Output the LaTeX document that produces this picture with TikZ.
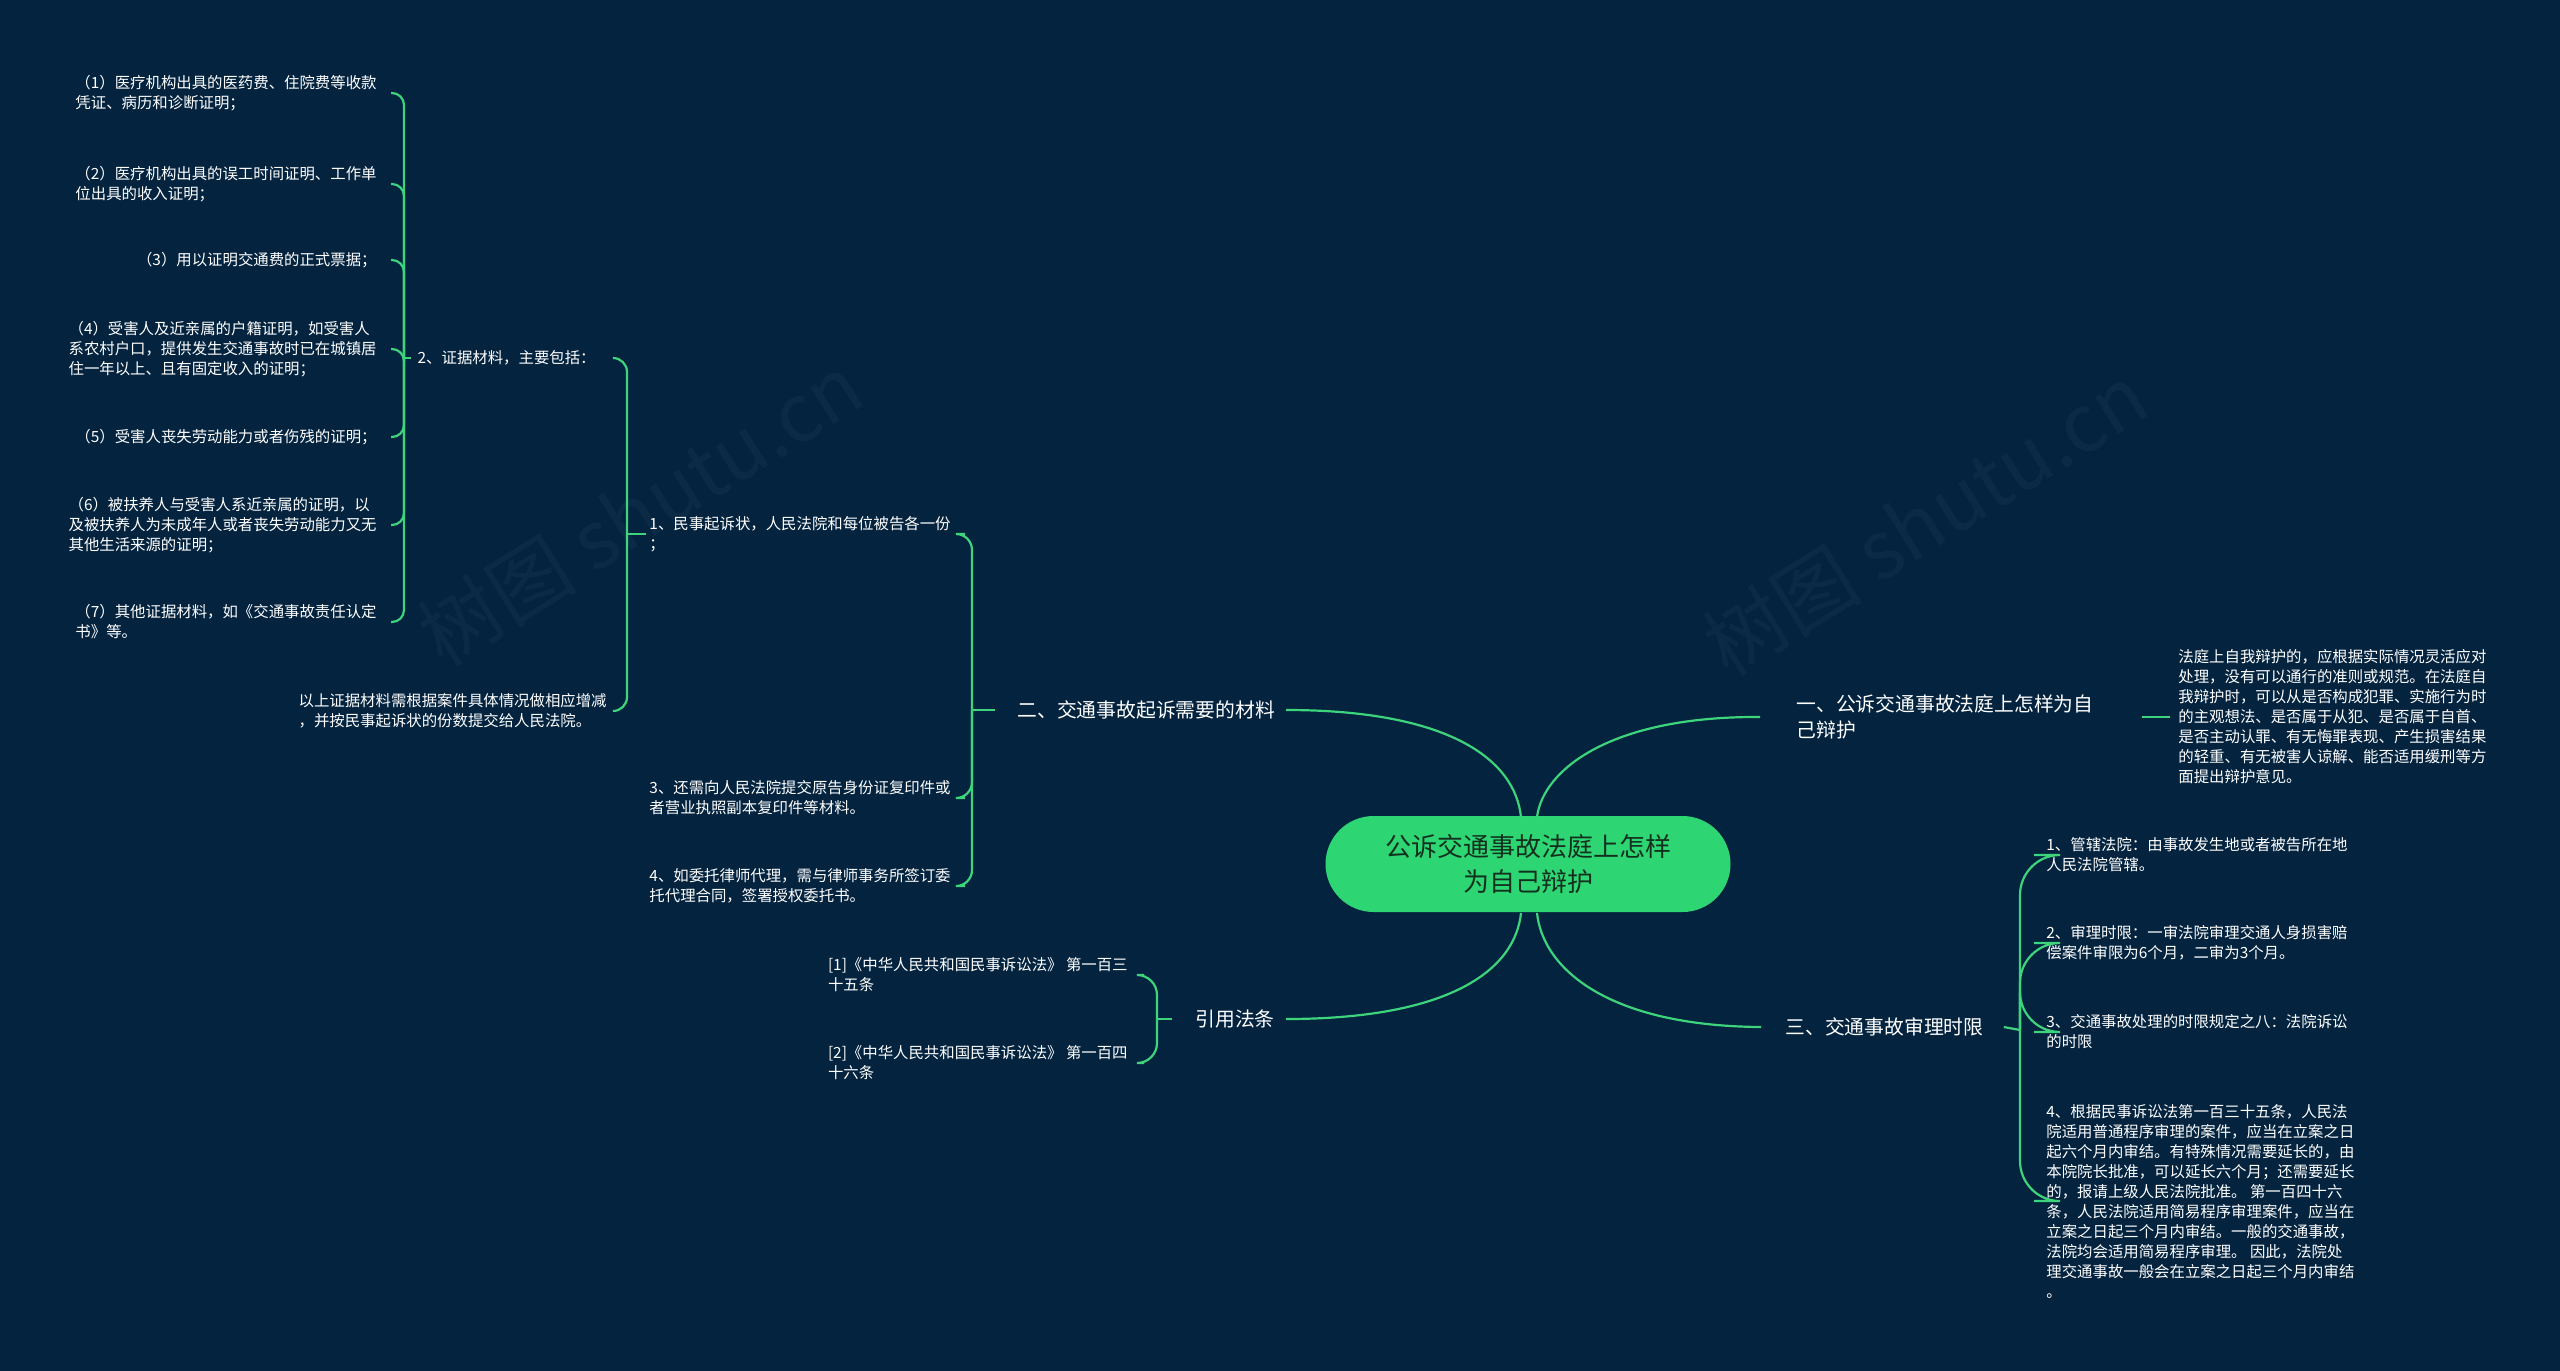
\documentclass[tikz,border=0pt]{standalone}
\usepackage{fontspec}
\setmainfont{Noto Sans CJK SC}
\begin{document}
\begin{tikzpicture}[x=0.5pt,y=-0.5pt,
  link/.style={draw=linkgreen,line width=1.1pt},
  leaf/.style={text=white,font=\fontsize{7.7}{10}\selectfont,align=left,inner sep=0pt},
  branch/.style={text=white,font=\fontsize{9.9}{13}\selectfont,align=left,inner sep=0pt},
  wm/.style={text=white,opacity=0.035,font=\fontsize{40}{40}\selectfont,rotate=32}]
\definecolor{bg}{HTML}{03233F}
\definecolor{linkgreen}{HTML}{3DD47C}
\definecolor{centerfill}{HTML}{2ED573}
\definecolor{centertext}{HTML}{13301F}
\fill[bg] (0,0) rectangle (2560,1371);
\useasboundingbox (0,0) rectangle (2560,1371);
\node[wm] (w1) at (640,510) {树图 shutu.cn};
\node[wm] (w2) at (1925,520) {树图 shutu.cn};
% center
\node[fill=centerfill,rounded corners=24pt,minimum width=202.5pt,minimum height=48pt,align=center,text=centertext,font=\fontsize{13}{17.5}\selectfont] (c) at (1528,864) {公诉交通事故法庭上怎样\\为自己辩护};
% branches
\node[branch,anchor=west] (b2) at (1017,710) {二、交通事故起诉需要的材料};
\node[branch,anchor=west] (b4) at (1195,1019) {引用法条};
\node[branch,anchor=west] (b1) at (1796,717) {一、公诉交通事故法庭上怎样为自\\己辩护};
\node[branch,anchor=west] (b3) at (1785,1027) {三、交通事故审理时限};
\draw[link] ([xshift=5.5pt]b2.east) .. controls (1450,710) and (1515,760) .. (1521,817);
\draw[link] ([xshift=5.5pt]b4.east) .. controls (1450,1019) and (1515,970) .. (1521,913);
\draw[link] ([xshift=-18pt]b1.west) .. controls (1610,716) and (1543,770) .. (1537,817);
\draw[link] ([xshift=-12pt]b3.west) .. controls (1610,1026) and (1543,970) .. (1537,913);
% branch 1 leaf
\node[leaf,anchor=west] (r1) at (2178,717) {法庭上自我辩护的，应根据实际情况灵活应对\\处理，没有可以通行的准则或规范。在法庭自\\我辩护时，可以从是否构成犯罪、实施行为时\\的主观想法、是否属于从犯、是否属于自首、\\是否主动认罪、有无悔罪表现、产生损害结果\\的轻重、有无被害人谅解、能否适用缓刑等方\\面提出辩护意见。};
\coordinate (r1s) at (2142,717);
\draw[link] (r1s) -- ([xshift=-4pt]r1.west);
% branch 3 leaves
\node[leaf,anchor=west] (t1) at (2046,855) {1、管辖法院：由事故发生地或者被告所在地\\人民法院管辖。};
\node[leaf,anchor=west] (t2) at (2046,943) {2、审理时限：一审法院审理交通人身损害赔\\偿案件审限为6个月，二审为3个月。};
\node[leaf,anchor=west] (t3) at (2046,1032) {3、交通事故处理的时限规定之八：法院诉讼\\的时限};
\node[leaf,anchor=west] (t4) at (2046,1201) {4、根据民事诉讼法第一百三十五条，人民法\\院适用普通程序审理的案件，应当在立案之日\\起六个月内审结。有特殊情况需要延长的，由\\本院院长批准，可以延长六个月；还需要延长\\的，报请上级人民法院批准。 第一百四十六\\条，人民法院适用简易程序审理案件，应当在\\立案之日起三个月内审结。一般的交通事故，\\法院均会适用简易程序审理。 因此，法院处\\理交通事故一般会在立案之日起三个月内审结\\。};
\coordinate (bE) at (2020,1030);
\draw[link] ([xshift=10pt]b3.east) -- (bE);
\foreach \n in {t1,t2,t3,t4} \draw[link,rounded corners=20pt] (bE) |- ([xshift=-6pt]\n.west);
% branch 4 leaves
\node[leaf,anchor=east] (f1) at (1128,975) {[1]《中华人民共和国民事诉讼法》 第一百三\\十五条};
\node[leaf,anchor=east] (f2) at (1128,1063) {[2]《中华人民共和国民事诉讼法》 第一百四\\十六条};
\coordinate (bD) at (1157,1019);
\draw[link] ([xshift=-11.5pt]b4.west) -- (bD);
\foreach \n in {f1,f2} \draw[link,rounded corners=10pt] (bD) |- ([xshift=8pt]\n.east);
% branch 2 children
\node[leaf,anchor=east] (m1) at (951,534) {1、民事起诉状，人民法院和每位被告各一份\\；};
\node[leaf,anchor=east] (m3) at (951,798) {3、还需向人民法院提交原告身份证复印件或\\者营业执照副本复印件等材料。};
\node[leaf,anchor=east] (m4) at (951,886) {4、如委托律师代理，需与律师事务所签订委\\托代理合同，签署授权委托书。};
\coordinate (bC) at (972,710);
\draw[link] ([xshift=-11pt]b2.west) -- (bC);
\foreach \n in {m1,m3,m4} \draw[link,rounded corners=8pt] (bC) |- ([xshift=7pt]\n.east);
% children of m1
\node[leaf,anchor=east] (e0) at (596,358) {2、证据材料，主要包括：};
\node[leaf,anchor=east] (e9) at (607,711) {以上证据材料需根据案件具体情况做相应增减\\，并按民事起诉状的份数提交给人民法院。};
\coordinate (bB) at (627,534);
\draw[link] ([xshift=-1.5pt]m1.west) -- (bB);
\foreach \n/\s in {e0/9pt,e9/3.5pt} \draw[link,rounded corners=7pt] (bB) |- ([xshift=\s]\n.east);
% evidence items
\node[leaf,anchor=east] (e1) at (377,93) {（1）医疗机构出具的医药费、住院费等收款\\凭证、病历和诊断证明；};
\node[leaf,anchor=east] (e2) at (377,184) {（2）医疗机构出具的误工时间证明、工作单\\位出具的收入证明；};
\node[leaf,anchor=east] (e3) at (377,260) {（3）用以证明交通费的正式票据；};
\node[leaf,anchor=east] (e4) at (377,349) {（4）受害人及近亲属的户籍证明，如受害人\\系农村户口，提供发生交通事故时已在城镇居\\住一年以上、且有固定收入的证明；};
\node[leaf,anchor=east] (e5) at (377,437) {（5）受害人丧失劳动能力或者伤残的证明；};
\node[leaf,anchor=east] (e6) at (377,525) {（6）被扶养人与受害人系近亲属的证明，以\\及被扶养人为未成年人或者丧失劳动能力又无\\其他生活来源的证明；};
\node[leaf,anchor=east] (e7) at (377,622) {（7）其他证据材料，如《交通事故责任认定\\书》等。};
\coordinate (bA) at (404,358);
\draw[link] ([xshift=-3pt]e0.west) -- (bA);
\foreach \n in {e1,e2,e3,e4,e5,e6,e7} \draw[link,rounded corners=6pt] (bA) |- ([xshift=7pt]\n.east);
\end{tikzpicture}
\end{document}
